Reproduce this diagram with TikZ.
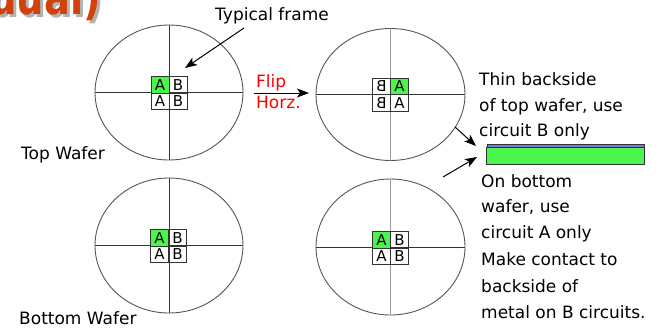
\documentclass[tikz,border=0pt]{standalone}
\usepackage{fontspec}
\setmainfont{DejaVu Sans}
\usetikzlibrary{shapes.geometric,arrows.meta}
\definecolor{cellgreen}{HTML}{4CF54C}
\definecolor{stripe}{HTML}{7878E0}
\definecolor{titleorange}{HTML}{D2400C}
\definecolor{circgray}{HTML}{555555}
\tikzset{
  wafer/.style={ellipse, draw=circgray, line width=0.9pt, minimum width=148pt, minimum height=135pt, inner sep=0pt},
  cross/.style={line width=0.9pt, draw=black!80},
  crossv/.style={line width=1.1pt, draw=black!40},
  cell/.style={draw=black!80, line width=0.8pt, minimum width=18pt, minimum height=16.5pt, inner sep=0pt, font=\fontsize{15}{15}\selectfont},
  gcell/.style={cell, fill=cellgreen},
  lbl/.style={anchor=base west, inner sep=0pt, font=\fontsize{17}{20}\selectfont},
  redlbl/.style={lbl, text=red},
  arr/.style={line width=1pt, -{Stealth[length=12pt, width=9pt, inset=3pt]}},
  titlefont/.style={anchor=base east, inner sep=0pt, font=\fontsize{48}{48}\selectfont\bfseries}
}
\newcommand{\mirr}[1]{\scalebox{-1}[1]{#1}}
\begin{document}
\begin{tikzpicture}[x=1pt,y=-1pt]
\useasboundingbox (0,0) rectangle (664,333);
\begin{scope}
\clip (0,0) rectangle (664,333);
% title fragment
\node[titlefont, text=black!30] (titlesh) at (104,17) {\scalebox{0.8}[1]{dual)}};
\node[titlefont, text=titleorange] (title) at (101,14.5) {\scalebox{0.8}[1]{dual)}};
\end{scope}

% wafers
\node[wafer] (w1) at (169,92.5) {};
\node[wafer, minimum width=149pt, minimum height=132pt] (w2) at (390.5,94.5) {};
\node[wafer] (w3) at (169,245.5) {};
\node[wafer, minimum width=149pt, minimum height=136pt] (w4) at (390.5,247) {};

\draw[cross] (w1.north) -- (w1.south);
\draw[cross] (w1.west) -- (w1.east);
\draw[crossv] (w2.north) -- (w2.south);
\draw[cross] (w2.west) -- (w2.east);
\draw[cross] (w3.north) -- (w3.south);
\draw[cross] (w3.west) -- (w3.east);
\draw[crossv] (w4.north) -- (w4.south);
\draw[cross] (w4.west) -- (w4.east);

% grids
\node[gcell] (w1a) at (160,85) {A};
\node[cell]  (w1b) at (178,85) {B};
\node[cell]  (w1c) at (160,101.5) {A};
\node[cell]  (w1d) at (178,101.5) {B};

\node[cell]  (w2a) at (381.5,86.25) {\mirr{B}};
\node[gcell] (w2b) at (399.5,86.25) {\mirr{A}};
\node[cell]  (w2c) at (381.5,102.75) {\mirr{B}};
\node[cell]  (w2d) at (399.5,102.75) {\mirr{A}};

\node[gcell] (w3a) at (159.5,237.75) {A};
\node[cell]  (w3b) at (177.5,237.75) {B};
\node[cell]  (w3c) at (159.5,254.25) {A};
\node[cell]  (w3d) at (177.5,254.25) {B};

\node[gcell] (w4a) at (381.5,239.75) {A};
\node[cell]  (w4b) at (399.5,239.75) {B};
\node[cell]  (w4c) at (381.5,256.25) {A};
\node[cell]  (w4d) at (399.5,256.25) {B};

% labels
\node[lbl] (tf) at (215,20.5) {Typical frame};
\node[lbl] (topw) at (21,159) {Top Wafer};
\node[lbl] (botw) at (19,324) {Bottom Wafer};
\node[redlbl] (flip) at (256,87) {Flip};
\node[redlbl] (horz) at (256,108) {Horz.};

\coordinate (tfs) at (244,28);
\coordinate (tft) at (185,68);
\draw[arr] (tfs) -- (tft);
\coordinate (fls) at (254,93);
\coordinate (flt) at (309,93);
\draw[arr] (fls) -- (flt);

% bar
\node[draw=black!80, line width=0.8pt, fill=cellgreen, minimum width=158pt, minimum height=17pt, inner sep=0pt] (bar) at (565,155.5) {};
\node[draw=black!80, line width=0.6pt, fill=stripe, minimum width=157pt, minimum height=3pt, inner sep=0pt] (stripe) at (565.5,145.5) {};

\coordinate (a1s) at (455,127);
\coordinate (a1t) at (476,146);
\draw[arr] (a1s) -- (a1t);
\coordinate (a2s) at (443,177);
\coordinate (a2t) at (477,157);
\draw[arr] (a2s) -- (a2t);

% right texts
\node[lbl] (t1) at (479,85) {Thin backside};
\node[lbl] (t2) at (479,111) {of top wafer, use};
\node[lbl] (t3) at (479,136.5) {circuit B only};
\node[lbl] (t4) at (481,187) {On bottom};
\node[lbl] (t5) at (481,212) {wafer, use};
\node[lbl] (t6) at (481,238) {circuit A only};
\node[lbl] (t7) at (481,265) {Make contact to};
\node[lbl] (t8) at (481,292) {backside of};
\node[lbl] (t9) at (481,318) {metal on B circuits.};
\end{tikzpicture}
\end{document}
